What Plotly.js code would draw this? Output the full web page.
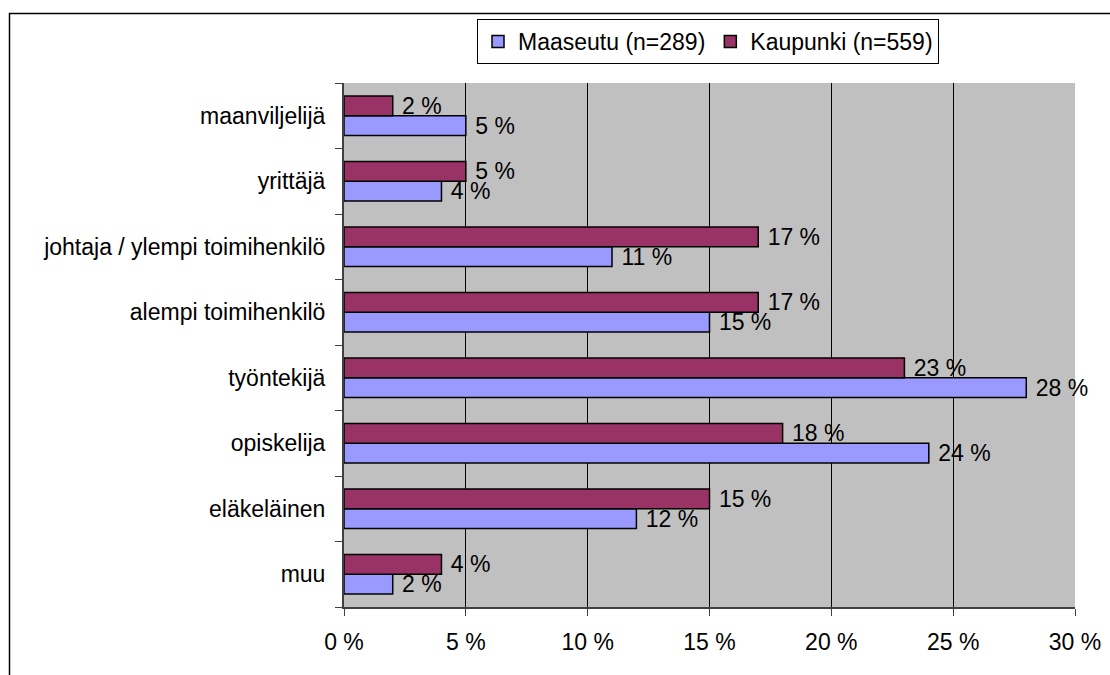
<!DOCTYPE html>
<html>
<head>
<meta charset="utf-8">
<script src="https://cdn.plot.ly/plotly-3.0.1.min.js"></script>
<style>
  html, body { margin: 0; padding: 0; background: #ffffff; }
  #chart { width: 1110px; height: 675px; }
</style>
</head>
<body>
<div id="chart"></div>
<script>
// Categories, listed top to bottom as in the chart
const categories = [
  "maanviljelijä",
  "yrittäjä",
  "johtaja / ylempi toimihenkilö",
  "alempi toimihenkilö",
  "työntekijä",
  "opiskelija",
  "eläkeläinen",
  "muu"
];
const seriesNames = ["Maaseutu (n=289)", "Kaupunki (n=559)"];
const maaseutu = [5, 4, 11, 15, 28, 24, 12, 2];
const kaupunki = [2, 5, 17, 17, 23, 18, 15, 4];
const xTickVals = [0, 5, 10, 15, 20, 25, 30];

const W = 1110, H = 675;
const mL = 344, mR = 35, mT = 83, mB = 68;
const plotW = W - mL - mR, plotH = H - mT - mB;
const px = x => (x - mL) / plotW;
const py = y => (H - mB - y) / plotH;

const fontFam = '"Liberation Sans", Arial, sans-serif';
const FS = 23;

function barTrace(name, vals, color) {
  return {
    type: 'bar',
    orientation: 'h',
    name: name,
    y: categories,
    x: vals,
    marker: { color: color, line: { color: '#000000', width: 1.5 } },
    text: vals.map(v => '\u00a0' + v + ' %'),
    textposition: 'outside',
    textfont: { family: fontFam, size: FS, color: '#000000' },
    constraintext: 'none',
    cliponaxis: false,
    hoverinfo: 'x+y+name'
  };
}

const data = [
  barTrace(seriesNames[0], maaseutu, '#9999FF'),
  barTrace(seriesNames[1], kaupunki, '#993366')
];

const layout = {
  width: W,
  height: H,
  margin: { l: mL, r: mR, t: mT, b: mB, pad: 0 },
  paper_bgcolor: '#ffffff',
  plot_bgcolor: '#C0C0C0',
  font: { family: fontFam, size: FS, color: '#000000' },
  barmode: 'group',
  bargap: 0.4,
  bargroupgap: 0,
  showlegend: true,
  legend: {
    orientation: 'h',
    x: px(477), xanchor: 'left',
    y: py(19), yanchor: 'top',
    bgcolor: '#ffffff',
    bordercolor: '#000000',
    borderwidth: 1,
    itemwidth: 30,
    font: { family: fontFam, size: FS, color: '#000000' }
  },
  xaxis: {
    range: [0, 30],
    tickvals: xTickVals,
    ticktext: xTickVals.map(v => v + ' %'),
    ticks: 'outside',
    ticklen: 7,
    tickcolor: '#404040',
    tickwidth: 1,
    showgrid: true,
    gridcolor: '#000000',
    gridwidth: 1,
    zeroline: false,
    showline: true,
    linecolor: '#404040',
    linewidth: 2,
    ticklabelstandoff: 6,
    tickfont: { family: fontFam, size: FS, color: '#000000' },
    fixedrange: true
  },
  yaxis: {
    type: 'category',
    categoryorder: 'array',
    categoryarray: categories.slice().reverse(),
    tickson: 'boundaries',
    ticks: 'outside',
    ticklen: 7,
    tickcolor: '#404040',
    tickwidth: 1,
    showgrid: false,
    zeroline: false,
    showline: true,
    linecolor: '#404040',
    linewidth: 2,
    ticklabelstandoff: 12,
    tickfont: { family: fontFam, size: FS, color: '#000000' },
    fixedrange: true
  },
  shapes: [
    { type: 'line', xref: 'paper', yref: 'paper',
      x0: px(9), x1: px(W + 5), y0: py(13.5), y1: py(13.5),
      line: { color: '#000000', width: 1.5 } },
    { type: 'line', xref: 'paper', yref: 'paper',
      x0: px(9.5), x1: px(9.5), y0: py(13), y1: py(H + 5),
      line: { color: '#000000', width: 1.5 } }
  ]
};

Plotly.newPlot('chart', data, layout, { displayModeBar: false, staticPlot: true });
</script>
</body>
</html>
